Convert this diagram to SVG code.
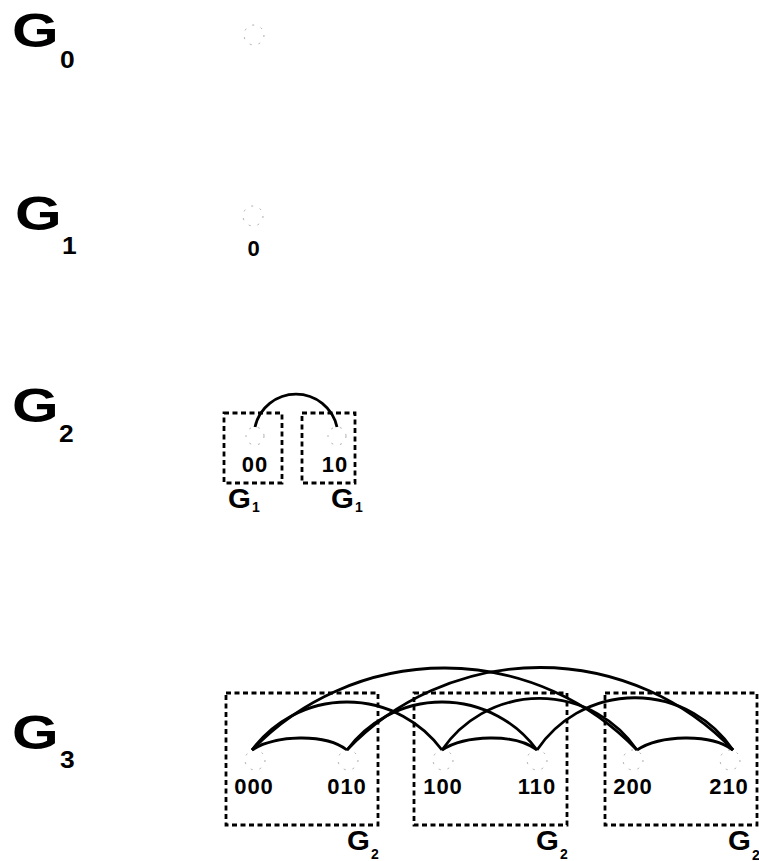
<svg xmlns="http://www.w3.org/2000/svg" width="759" height="861" viewBox="0 0 759 861">
<style>
.big{font-family:"Liberation Sans",Arial,sans-serif;font-weight:bold;font-size:48px;fill:#000}
.sub{font-family:"Liberation Sans",Arial,sans-serif;font-weight:bold;font-size:24px;fill:#000}
.lbl{font-family:"Liberation Sans",Arial,sans-serif;font-weight:bold;font-size:22px;fill:#000;text-anchor:middle;letter-spacing:1px}
.sg{font-family:"Liberation Sans",Arial,sans-serif;font-weight:bold;font-size:28px;fill:#000}
.ss{font-family:"Liberation Sans",Arial,sans-serif;font-weight:bold;font-size:14px;fill:#000}
.box{fill:none;stroke:#000;stroke-width:2.8;stroke-dasharray:5,3.5}
.node{fill:none;stroke:#aaa;stroke-width:1;stroke-dasharray:2,7}
.edge{fill:none;stroke:#000;stroke-width:2.8}
</style>
<g id="titles">
<text class="big" transform="translate(12,47) scale(1.25,1)">G</text>
<text class="sub" transform="translate(60,68) scale(1.1,1)">0</text>
<text class="big" transform="translate(15,230) scale(1.25,1)">G</text>
<text class="sub" transform="translate(62,254) scale(1.1,1)">1</text>
<text class="big" transform="translate(12,422) scale(1.25,1)">G</text>
<text class="sub" transform="translate(59,442) scale(1.1,1)">2</text>
<text class="big" transform="translate(12,749) scale(1.25,1)">G</text>
<text class="sub" transform="translate(60,768) scale(1.1,1)">3</text>
</g>
<g id="g0-node"><circle class="node" cx="254" cy="35" r="10"/></g>
<g id="g1-node-0"><circle class="node" cx="253" cy="216" r="10"/><text class="lbl" x="254" y="256">0</text></g>
<g id="g2-box-left"><rect class="box" x="224" y="413" width="58" height="70"/><text class="sg" transform="translate(228,508) scale(1.05,1)">G</text><text class="ss" x="252" y="512">1</text></g>
<g id="g2-box-right"><rect class="box" x="302" y="413" width="53" height="70"/><text class="sg" transform="translate(331,508) scale(1.05,1)">G</text><text class="ss" x="355" y="512">1</text></g>
<g id="g2-node-00"><circle class="node" cx="255" cy="436" r="9"/><text class="lbl" x="255" y="472">00</text></g>
<g id="g2-node-10"><circle class="node" cx="337" cy="436" r="9"/><text class="lbl" x="335" y="472">10</text></g>
<g id="g3-box-1"><rect class="box" x="226" y="693" width="152" height="132"/><text class="sg" transform="translate(347,850) scale(1.05,1)">G</text><text class="ss" x="371" y="859">2</text></g>
<g id="g3-box-2"><rect class="box" x="414" y="693" width="153" height="132"/><text class="sg" transform="translate(536,850) scale(1.05,1)">G</text><text class="ss" x="560" y="859">2</text></g>
<g id="g3-box-3"><rect class="box" x="605" y="693" width="152" height="132"/><text class="sg" transform="translate(728,850) scale(1.05,1)">G</text><text class="ss" x="752" y="860">2</text></g>
<g id="g3-node-000"><circle class="node" cx="255" cy="760" r="10"/><text class="lbl" x="254" y="794">000</text></g>
<g id="g3-node-010"><circle class="node" cx="348" cy="760" r="10"/><text class="lbl" x="347" y="794">010</text></g>
<g id="g3-node-100"><circle class="node" cx="443" cy="760" r="10"/><text class="lbl" x="443" y="794">100</text></g>
<g id="g3-node-110"><circle class="node" cx="537" cy="760" r="10"/><text class="lbl" x="537" y="794">110</text></g>
<g id="g3-node-200"><circle class="node" cx="633" cy="760" r="10"/><text class="lbl" x="633" y="794">200</text></g>
<g id="g3-node-210"><circle class="node" cx="730" cy="760" r="10"/><text class="lbl" x="729" y="794">210</text></g>
<g id="connectors">
<path class="edge" d="M255,427 A42,42 0 0 1 337,427"/>
<path class="edge" d="M252,750 C275,735 325,733 347,750"/>
<path class="edge" d="M442,750 C465,735 515,733 537,750"/>
<path class="edge" d="M637,750 C660,735 710,733 733,750"/>
<path class="edge" d="M252,750 A118,118 0 0 1 442,750"/>
<path class="edge" d="M347,750 A118,118 0 0 1 537,750"/>
<path class="edge" d="M442,750 A118,118 0 0 1 637,750"/>
<path class="edge" d="M537,750 A118,118 0 0 1 733,750"/>
<path class="edge" d="M252,750 A267,267 0 0 1 637,750"/>
<path class="edge" d="M347,750 A267,267 0 0 1 733,750"/>
</g>
</svg>
